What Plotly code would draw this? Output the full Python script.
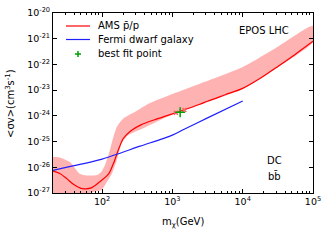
import plotly.graph_objects as go

# ---- data ----
ams_mass = [20, 25, 31, 39, 50, 58, 70, 89, 123, 145, 170, 200, 257, 355, 603,
            1000, 1288, 2455, 3162, 5623, 10000, 17783, 31623, 56234, 100000]
ams_sigma = [7.08e-27, 5.75e-27, 3.72e-27, 2.19e-27, 1.51e-27, 1.45e-27, 1.58e-27,
             2.51e-27, 5.37e-27, 1.41e-26, 4.68e-26, 1.32e-25, 2.63e-25, 4.47e-25,
             7.59e-25, 1.20e-24, 1.51e-24, 2.82e-24, 3.72e-24, 6.61e-24, 1.17e-23,
             2.88e-23, 8.32e-23, 2.51e-22, 7.94e-22]

band_up_mass = [20, 25, 35, 48, 60, 85, 98, 110, 129, 145, 162, 200, 295, 480,
                1000, 2455, 10000, 31623, 100000]
band_up_sigma = [2.57e-26, 2.40e-26, 1.58e-26, 5.62e-27, 4.79e-27, 5.01e-27, 6.76e-27,
                 1.23e-26, 4.68e-26, 1.55e-25, 3.80e-25, 7.94e-25, 1.45e-24, 3.16e-24,
                 7.08e-24, 1.78e-23, 7.94e-23, 4.90e-22, 3.16e-21]

band_lo_mass = [20, 48, 70, 85, 98, 110, 138, 162, 190, 234, 407, 1000, 3162,
                10000, 31623, 100000]
band_lo_sigma = [5.01e-28, 7.94e-28, 1.05e-27, 1.20e-27, 1.32e-27, 2.04e-27, 5.75e-27,
                 1.91e-26, 8.51e-26, 1.78e-25, 3.55e-25, 1.12e-24, 3.47e-24, 1.10e-23,
                 7.76e-23, 7.41e-22]

fermi_mass = [20, 50, 100, 347, 1000, 1445, 3162, 10000]
fermi_sigma = [7.59e-27, 1.32e-26, 2.09e-26, 6.61e-26, 1.78e-25, 2.95e-25, 8.32e-25, 3.80e-24]

best_mass = [1288]
best_sigma = [1.38e-24]
near_mass = [1122, 1479]
near_sigma = [1.32e-24, 1.70e-24]

x_tickvals = [100, 1000, 10000, 100000]
x_ticktext = ["10<sup>2</sup>", "10<sup>3</sup>", "10<sup>4</sup>", "10<sup>5</sup>"]
y_tickvals = [1e-27, 1e-26, 1e-25, 1e-24, 1e-23, 1e-22, 1e-21, 1e-20]
y_ticktext = ["10<sup>-27</sup>", "10<sup>-26</sup>", "10<sup>-25</sup>", "10<sup>-24</sup>",
              "10<sup>-23</sup>", "10<sup>-22</sup>", "10<sup>-21</sup>", "10<sup>-20</sup>"]

legend_labels = ["AMS p\u0304/p", "Fermi dwarf galaxy", "best fit point"]

FONT = "DejaVu Sans"
RED = "#ff0000"
BLUE = "#2020ff"
GREEN = "#00a000"
PINK = "rgba(255,0,0,0.3)"

fig = go.Figure()

fig.add_trace(go.Scatter(
    x=band_up_mass + band_lo_mass[::-1],
    y=band_up_sigma + band_lo_sigma[::-1],
    mode="lines", fill="toself", fillcolor=PINK,
    line=dict(width=0, color=PINK, shape="spline", smoothing=0.6),
    hoverinfo="skip", showlegend=False))

fig.add_trace(go.Scatter(x=ams_mass, y=ams_sigma, mode="lines",
                         line=dict(color=RED, width=1.2, shape="spline", smoothing=0.8),
                         name=legend_labels[0], showlegend=False))
fig.add_trace(go.Scatter(x=fermi_mass, y=fermi_sigma, mode="lines",
                         line=dict(color=BLUE, width=1.2, shape="spline", smoothing=0.8),
                         name=legend_labels[1], showlegend=False))
fig.add_trace(go.Scatter(x=near_mass, y=near_sigma, mode="markers",
                         marker=dict(symbol="x-thin", size=4, line=dict(color="#ff6060", width=1.5)),
                         showlegend=False, hoverinfo="skip"))
fig.add_trace(go.Scatter(x=best_mass, y=best_sigma, mode="markers",
                         marker=dict(symbol="cross-thin", size=7, line=dict(color=GREEN, width=1.5)),
                         name=legend_labels[2], showlegend=False))

L, T, W, H = 53, 13, 260, 180
def px(xp):
    return (xp - L) / W
def py(yp):
    return (T + H - yp) / H

shapes = [
    dict(type="line", xref="paper", yref="paper", x0=px(66), x1=px(90), y0=py(26), y1=py(26),
         line=dict(color=RED, width=1.2)),
    dict(type="line", xref="paper", yref="paper", x0=px(66), x1=px(90), y0=py(39.5), y1=py(39.5),
         line=dict(color=BLUE, width=1.2)),
    dict(type="line", xref="paper", yref="paper", x0=px(75), x1=px(81), y0=py(54), y1=py(54),
         line=dict(color=GREEN, width=1.5)),
    dict(type="line", xref="paper", yref="paper", x0=px(78), x1=px(78), y0=py(51), y1=py(57),
         line=dict(color=GREEN, width=1.5)),
]
annotations = []
for lbl, yy in zip(legend_labels, [26, 39.5, 54]):
    annotations.append(dict(text=lbl, xref="paper", yref="paper", x=px(96), y=py(yy),
                            xanchor="left", yanchor="middle", showarrow=False,
                            font=dict(family=FONT, size=10, color="black")))
annotations.append(dict(text="EPOS LHC", xref="paper", yref="paper", x=px(264), y=py(31),
                        xanchor="center", yanchor="middle", showarrow=False,
                        font=dict(family=FONT, size=10, color="black")))
annotations.append(dict(text="DC", xref="paper", yref="paper", x=px(274.5), y=py(160),
                        xanchor="center", yanchor="middle", showarrow=False,
                        font=dict(family=FONT, size=10, color="black")))
annotations.append(dict(text="bb\u0304", xref="paper", yref="paper", x=px(274.5), y=py(175.5),
                        xanchor="center", yanchor="middle", showarrow=False,
                        font=dict(family=FONT, size=10, color="black")))
annotations.append(dict(text="m<sub>χ</sub>(GeV)", xref="paper", yref="paper", x=px(183), y=py(222),
                        xanchor="center", yanchor="middle", showarrow=False,
                        font=dict(family=FONT, size=10, color="black")))
annotations.append(dict(text="&lt;σv&gt;(cm<sup>3</sup>s<sup>-1</sup>)", xref="paper", yref="paper",
                        x=px(10), y=py(104), xanchor="center", yanchor="middle", textangle=-90,
                        showarrow=False, font=dict(family=FONT, size=10, color="black")))

fig.update_layout(
    width=332, height=242,
    margin=dict(l=L, r=332 - L - W, t=T, b=242 - T - H, autoexpand=False),
    paper_bgcolor="white", plot_bgcolor="white",
    font=dict(family=FONT, size=10, color="black"),
    shapes=shapes, annotations=annotations,
    showlegend=False,
)
fig.update_xaxes(
    type="log", range=[1.30103, 5], automargin=False,
    tickmode="array", tickvals=x_tickvals, ticktext=x_ticktext,
    ticks="inside", ticklen=4, tickwidth=1, tickcolor="black",
    showline=True, linecolor="black", linewidth=1, mirror="allticks",
    showgrid=False, zeroline=False, ticklabeloverflow="allow",
    tickfont=dict(family=FONT, size=9.5, color="black"),
    minor=dict(ticks="inside", ticklen=2, tickcolor="black", showgrid=False, dtick="D1"),
)
fig.update_yaxes(
    type="log", range=[-27, -20], automargin=False,
    tickmode="array", tickvals=y_tickvals, ticktext=y_ticktext,
    ticks="inside", ticklen=4, tickwidth=1, tickcolor="black",
    showline=True, linecolor="black", linewidth=1, mirror="allticks",
    showgrid=False, zeroline=False, ticklabeloverflow="allow",
    tickfont=dict(family=FONT, size=9.5, color="black"),
)

fig.write_html("out.html",
               config={"displayModeBar": False, "staticPlot": True},
               post_script="document.body.style.margin='0';document.body.style.padding='0';")
